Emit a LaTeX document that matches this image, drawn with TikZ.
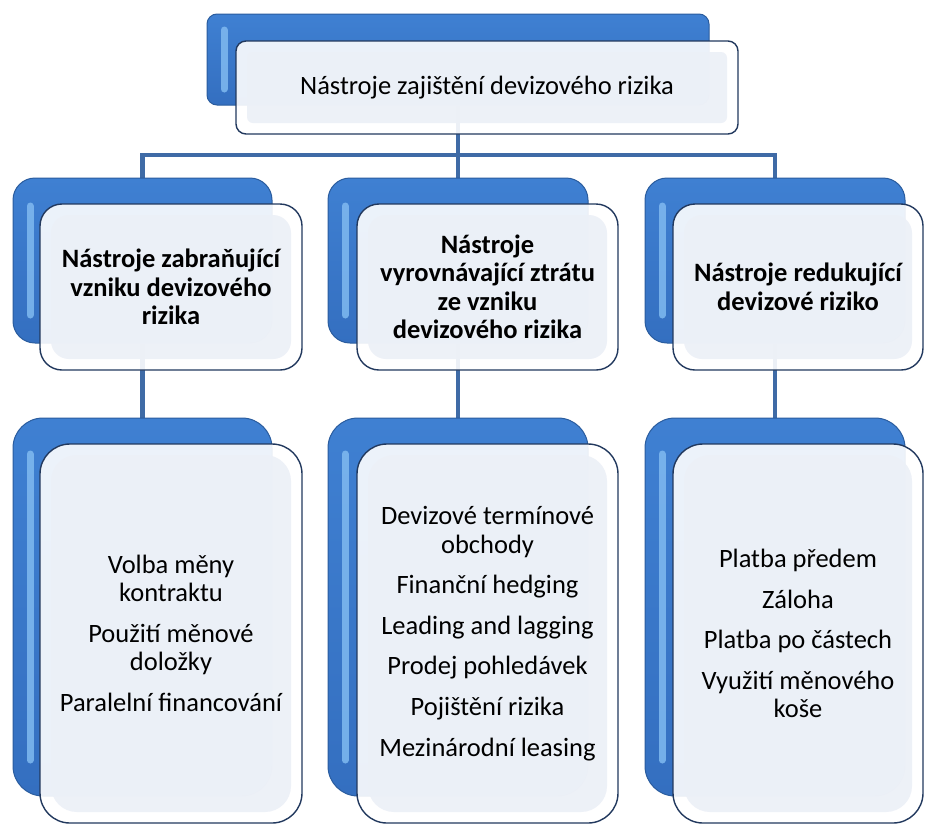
\documentclass[tikz,border=0pt]{standalone}
\usepackage{fontspec}
\setmainfont{Carlito}
\usetikzlibrary{calc,backgrounds}
\definecolor{connblue}{HTML}{3F6BA6}
\definecolor{blueTop}{HTML}{3F80D2}
\definecolor{blueBot}{HTML}{346FC0}
\definecolor{backedge}{HTML}{2A5C9E}
\definecolor{bluehl}{HTML}{80BAF0}
\definecolor{frontedge}{HTML}{22395E}
\definecolor{frontin}{HTML}{ECF0F7}
\tikzset{
  conn/.style={draw=connblue, line width=4.5pt, line join=miter},
  backbox/.style={draw=backedge, line width=1pt, top color=blueTop, bottom color=blueBot,
    rounded corners=#1, inner sep=0pt,
    path picture={
      \draw[bluehl, line width=7pt, line cap=round, opacity=0.85]
        ([shift={(17pt,-#1-6pt)}]path picture bounding box.north west) --
        ([shift={(17pt,#1+6pt)}]path picture bounding box.south west);
    }},
  frontbox/.style={draw=frontedge, line width=1.4pt, fill=white, fill opacity=0.9, text opacity=1,
    rounded corners=#1, inner sep=0pt, align=center, text=black,
    path picture={
      \fill[frontin, rounded corners=#1-4pt]
        ([shift={(11pt,-11pt)}]path picture bounding box.north west) rectangle
        ([shift={(-11pt,11pt)}]path picture bounding box.south east);
    }},
  maintxt/.style={font=\fontsize{26.5}{28.3}\selectfont},
  headtxt/.style={font=\fontsize{26.5}{28.5}\selectfont\bfseries},
}
\begin{document}
\begin{tikzpicture}[x=1pt,y=-1pt]
\useasboundingbox (0,0) rectangle (925,825);
\coordinate (bus) at (0,155);

% top
\node[backbox=10, minimum width=502pt, minimum height=91pt] (topB) at (458,59.5) {};
\node[frontbox=10, minimum width=502pt, minimum height=93pt, maintxt] (topF) at (487,87.5)
  {Nástroje zajištění devizového rizika};

% heading back boxes
\node[backbox=22, minimum width=259pt, minimum height=165pt] (c1B) at (142.5,260.5) {};
\node[backbox=22, minimum width=260pt, minimum height=165pt] (c2B) at (458,260.5) {};
\node[backbox=22, minimum width=260pt, minimum height=165pt] (c3B) at (775,260.5) {};
% heading front boxes
\node[frontbox=22, minimum width=262pt, minimum height=166pt, headtxt] (c1F) at (171,287)
  {Nástroje zabraňující\\vzniku devizového\\rizika};
\node[frontbox=22, minimum width=261pt, minimum height=166pt, headtxt] (c2F) at (487.5,287)
  {Nástroje\\vyrovnávající ztrátu\\ze vzniku\\devizového rizika};
\node[frontbox=22, minimum width=250pt, minimum height=166pt, headtxt] (c3F) at (798,287)
  {Nástroje redukující\\devizové riziko};

% bottom back boxes
\node[backbox=30, minimum width=259pt, minimum height=378pt] (b1B) at (142.5,607) {};
\node[backbox=30, minimum width=260pt, minimum height=378pt] (b2B) at (458,607) {};
\node[backbox=30, minimum width=260pt, minimum height=378pt] (b3B) at (775,607) {};
% bottom front boxes
\node[frontbox=30, minimum width=262pt, minimum height=379pt, maintxt] (b1F) at (171,633.5)
  {Volba měny\\kontraktu\\[12.5pt]Použití měnové\\doložky\\[12.5pt]Paralelní financování};
\node[frontbox=30, minimum width=261pt, minimum height=379pt, maintxt] (b2F) at (487.5,633.5)
  {Devizové termínové\\obchody\\[12.3pt]Finanční hedging\\[12.3pt]Leading and lagging\\[12.3pt]Prodej pohledávek\\[12.3pt]Pojištění rizika\\[12.3pt]Mezinárodní leasing};
\node[frontbox=30, minimum width=250pt, minimum height=379pt, maintxt] (b3F) at (798,633.5)
  {Platba předem\\[12.3pt]Záloha\\[12.3pt]Platba po částech\\[12.3pt]Využití měnového\\koše};

% connectors
\begin{scope}[on background layer]
  \draw[conn] (topB.south) -- (c2B.north);
  \draw[conn] (c1B.north) -- (c1B.north |- bus) -- (c3B.north |- bus) -- (c3B.north);
  \draw[conn] (c1B.south) -- (b1B.north);
  \draw[conn] (c2B.south) -- (b2B.north);
  \draw[conn] (c3B.south) -- (b3B.north);
\end{scope}
\end{tikzpicture}
\end{document}
